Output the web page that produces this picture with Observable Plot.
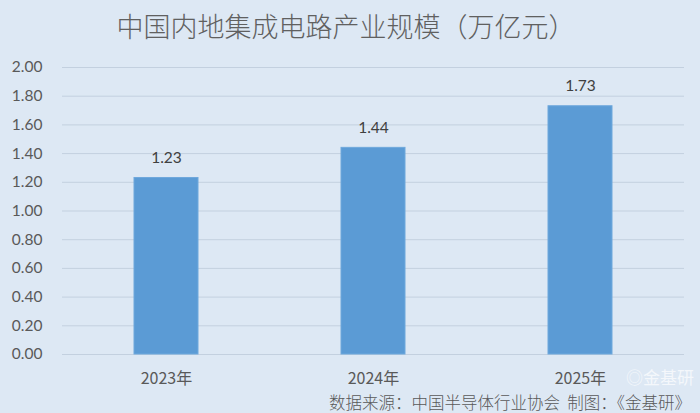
<!DOCTYPE html>
<html>
<head>
<meta charset="utf-8">
<script src="https://cdn.jsdelivr.net/npm/d3@7"></script>
<script src="https://cdn.jsdelivr.net/npm/@observablehq/plot@0.6"></script>
<style>
  html, body { margin: 0; padding: 0; background: #dde8f4; }
  #wrap { position: relative; width: 700px; height: 413px; background: #dde8f4; overflow: hidden; }
  #title { position: absolute; left: 0; top: 8px; width: 692px; text-align: center;
    font-family: "Noto Sans CJK SC", sans-serif; font-size: 27px; color: #606060; line-height: 36px; font-weight: 300; }
  #chart { position: absolute; left: 0; top: 50px; }
  #caption { position: absolute; right: 9px; top: 392px; font-family: "Noto Sans CJK SC", sans-serif;
    font-size: 16.5px; color: #595959; line-height: 20px; white-space: pre; font-weight: 300; }
  #wm { position: absolute; left: 626px; top: 367px; font-family: "Noto Sans CJK SC", sans-serif;
    font-size: 17px; color: rgba(255,255,255,0.7); line-height: 20px; }
</style>
</head>
<body>
<div id="wrap">
  <div id="title">中国内地集成电路产业规模（万亿元）</div>
  <div id="chart"></div>
  <div id="caption">数据来源：中国半导体行业协会  制图：《金基研》</div>
  <div id="wm">◎金基研</div>
</div>
<script>
const years = ["2023年", "2024年", "2025年"];
const values = [1.23, 1.44, 1.73];
const yTicks = [0, 0.2, 0.4, 0.6, 0.8, 1.0, 1.2, 1.4, 1.6, 1.8, 2.0];

const data = years.map((y, i) => ({year: y, value: values[i]}));

const plot = Plot.plot({
  width: 700,
  height: 340,
  marginLeft: 62,
  marginRight: 16,
  marginTop: 17,
  marginBottom: 36,
  style: {background: "transparent", fontFamily: "Lato, 'Open Sans', sans-serif", color: "#595959"},
  x: {domain: years, paddingInner: 0.69, paddingOuter: 0.345, label: null},
  y: {domain: [0, 2], label: null},
  marks: [
    Plot.gridY(yTicks, {stroke: "#c3d0df", strokeOpacity: 1, strokeWidth: 1}),
    Plot.barY(data, {x: "year", y: "value", fill: "#5b9bd5", stroke: "#6fa8dc", strokeWidth: 1}),
    Plot.text(data, {x: "year", y: "value", text: d => d.value.toFixed(2), dy: -20,
      fontSize: 15.5, fill: "#404040", fontFamily: "Lato, sans-serif"}),
    Plot.axisY({ticks: yTicks, tickFormat: d => d.toFixed(2), tickSize: 0, tickPadding: 20,
      fontSize: 15.5, fill: "#595959", label: null}),
    Plot.axisX({tickSize: 0, tickPadding: 18, fontSize: 16, fill: "#595959", label: null,
      fontFamily: "'Noto Sans CJK SC', sans-serif"})
  ]
});
document.getElementById("chart").appendChild(plot);
</script>
</body>
</html>
